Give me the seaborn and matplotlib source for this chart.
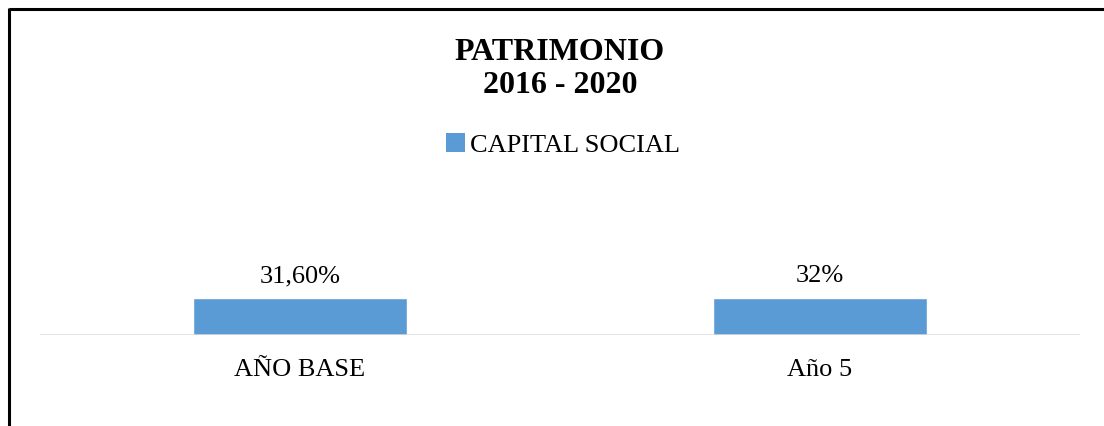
import matplotlib
matplotlib.use("Agg")
import matplotlib.pyplot as plt
from matplotlib.lines import Line2D
from matplotlib.patches import Patch
import pandas as pd
import seaborn as sns

# Data
categories = ["AÑO BASE", "Año 5"]
capital_social = [0.316, 0.32]
value_labels = ["31,60%", "32%"]
series_name = "CAPITAL SOCIAL"
title_lines = ["PATRIMONIO", "2016 - 2020"]

BAR_COLOR = "#5B9BD5"
AXIS_COLOR = "#D9D9D9"

sns.set_theme(style="white")
plt.rcParams["font.family"] = ["Liberation Serif", "DejaVu Serif"]
plt.rcParams["text.color"] = "black"

W, H = 1104, 426
fig = plt.figure(figsize=(W / 100, H / 100), dpi=100)
fig.patch.set_facecolor("white")

# Plot area in pixel coordinates (left, top, right, bottom)
px_left, px_top, px_right, px_bottom = 40, 190, 1080, 335
ax = fig.add_axes([px_left / W, 1 - px_bottom / H,
                   (px_right - px_left) / W, (px_bottom - px_top) / H])

df = pd.DataFrame({"categoria": categories, "valor": capital_social,
                   "serie": series_name})
sns.barplot(data=df, x="categoria", y="valor", hue="serie",
            palette=[BAR_COLOR], width=0.41, legend=False, ax=ax,
            saturation=1, zorder=2)

ax.set_xlim(-0.5, 1.5)
ax.set_ylim(0, 1.254)
ax.axhline(0, color=AXIS_COLOR, lw=1.8, zorder=3)

for s in ax.spines.values():
    s.set_visible(False)
ax.set_yticks([])
ax.set_xlabel("")
ax.set_ylabel("")
ax.tick_params(axis="x", length=0, pad=17, labelsize=19, colors="black")

ax.bar_label(ax.containers[0], labels=value_labels, padding=8,
             fontsize=19, color="black")

# Title
cx = 560 / W
fig.text(cx, 1 - 60 / H, title_lines[0], ha="center", va="baseline",
         fontsize=23, fontweight="bold", color="black")
fig.text(cx, 1 - 93 / H, title_lines[1], ha="center", va="baseline",
         fontsize=23, fontweight="bold", color="black")

# Legend
handle = Patch(facecolor=BAR_COLOR, edgecolor="none", label=series_name)
leg = fig.legend(handles=[handle], loc="center",
                 bbox_to_anchor=(563 / W, 1 - 145 / H), frameon=False,
                 fontsize=19, handlelength=0.7, handleheight=0.7,
                 handletextpad=0.2, borderpad=0, borderaxespad=0,
                 labelcolor="black")

# Outer frame (top and left edges)
lw = 2.2
fig.add_artist(Line2D([9 / W, 1], [1 - 9 / H, 1 - 9 / H], color="black",
                      lw=lw, transform=fig.transFigure, solid_capstyle="butt"))
fig.add_artist(Line2D([9 / W, 9 / W], [1 - 8 / H, 0], color="black",
                      lw=lw, transform=fig.transFigure, solid_capstyle="butt"))

fig.savefig("out.png", dpi=100, facecolor="white")
